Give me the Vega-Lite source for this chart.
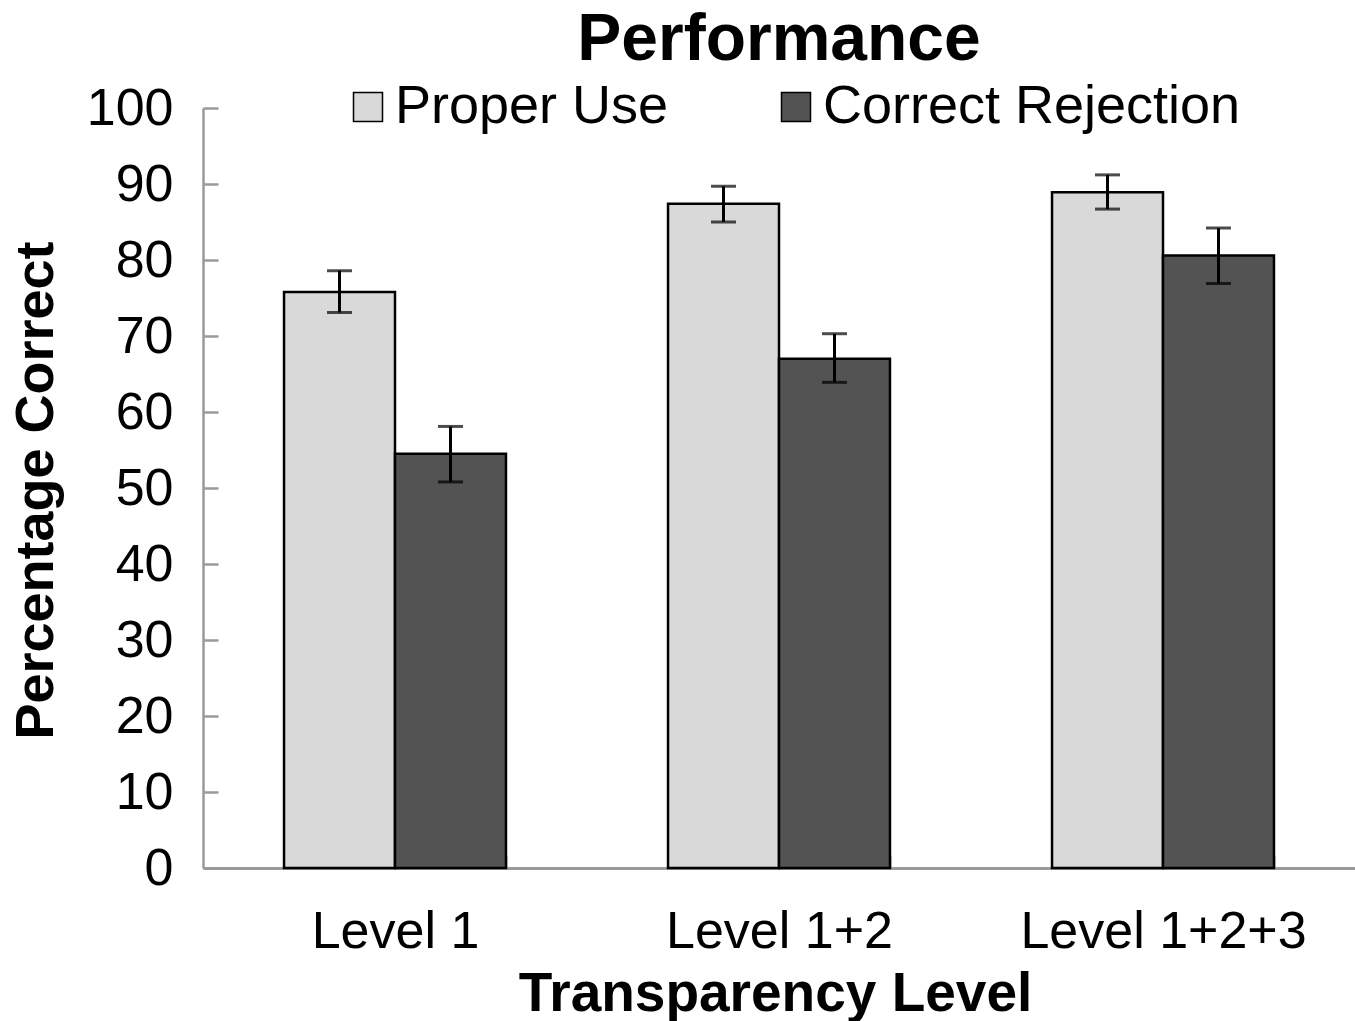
{
  "$schema": "https://vega.github.io/schema/vega-lite/v6.json",
  "width": 1152,
  "height": 760,
  "autosize": {"type": "none"},
  "padding": {"left": 203, "top": 108, "right": 0, "bottom": 153},
  "background": "white",
  "title": {"text": "Performance", "font": "Liberation Sans", "fontSize": 66, "fontWeight": "bold", "color": "black", "anchor": "middle", "frame": "group", "baseline": "alphabetic", "offset": -46},
  "data": {"values": [
    {"level": "Level 1", "measure": "Proper Use", "mean": 75.8, "lo": 73.1, "hi": 78.6},
    {"level": "Level 1", "measure": "Correct Rejection", "mean": 54.5, "lo": 50.8, "hi": 58.1},
    {"level": "Level 1+2", "measure": "Proper Use", "mean": 87.4, "lo": 85.0, "hi": 89.7},
    {"level": "Level 1+2", "measure": "Correct Rejection", "mean": 67.0, "lo": 63.9, "hi": 70.3},
    {"level": "Level 1+2+3", "measure": "Proper Use", "mean": 88.9, "lo": 86.7, "hi": 91.2},
    {"level": "Level 1+2+3", "measure": "Correct Rejection", "mean": 80.6, "lo": 76.9, "hi": 84.2}
  ]},
  "encoding": {
    "x": {
      "field": "level", "type": "nominal",
      "sort": ["Level 1", "Level 1+2", "Level 1+2+3"],
      "scale": {"paddingInner": 0.422, "paddingOuter": 0.211},
      "axis": {
        "title": "Transparency Level",
        "labelAngle": 0, "labelLimit": 1000,
        "domainColor": "#9a9a9a", "domainWidth": 3,
        "tickColor": "#9a9a9a", "tickWidth": 2, "tickSize": -12, "tickBand": "extent",
        "labelFont": "Liberation Sans", "labelFontSize": 52, "labelColor": "black",
        "labelBaseline": "alphabetic", "labelPadding": 91,
        "titleFont": "Liberation Sans", "titleFontSize": 55, "titleFontWeight": "bold", "titleColor": "black",
        "titleBaseline": "alphabetic", "titleY": 142, "titleX": 572
      }
    },
    "xOffset": {
      "field": "measure", "type": "nominal",
      "sort": ["Proper Use", "Correct Rejection"],
      "scale": {"paddingInner": 0, "paddingOuter": 0}
    }
  },
  "layer": [
    {
      "mark": {"type": "bar", "stroke": "black", "strokeWidth": 2.5},
      "encoding": {
        "y": {
          "field": "mean", "type": "quantitative", "title": "Percentage Correct",
          "scale": {"domain": [0, 100]},
          "axis": {
            "values": [0, 10, 20, 30, 40, 50, 60, 70, 80, 90, 100],
            "grid": false,
            "domainColor": "#9a9a9a", "domainWidth": 2.5,
            "tickColor": "#9a9a9a", "tickWidth": 2.5, "tickSize": -15,
            "labelFont": "Liberation Sans", "labelFontSize": 52, "labelColor": "black",
            "labelPadding": 45,
            "titleFont": "Liberation Sans", "titleFontSize": 54, "titleFontWeight": "bold", "titleColor": "black",
            "titleBaseline": "alphabetic", "titleX": -151, "titleY": 382, "titleAngle": 270
          }
        },
        "fill": {
          "field": "measure", "type": "nominal",
          "scale": {"domain": ["Proper Use", "Correct Rejection"], "range": ["#d8d9d8", "#535353"]},
          "legend": {
            "orient": "none", "legendX": 138, "legendY": -28,
            "direction": "horizontal", "columns": 2, "columnPadding": 100,
            "title": null, "padding": 0,
            "symbolType": "square", "symbolSize": 841,
            "symbolStrokeColor": "black", "symbolStrokeWidth": 1.5,
            "labelFont": "Liberation Sans", "labelFontSize": 54, "labelColor": "black",
            "labelOffset": 0, "labelLimit": 600
          }
        }
      }
    },
    {
      "mark": {"type": "rule", "color": "black", "strokeWidth": 3},
      "encoding": {
        "y": {"field": "lo", "type": "quantitative", "title": "Percentage Correct"},
        "y2": {"field": "hi"}
      }
    },
    {
      "mark": {"type": "tick", "color": "black", "thickness": 3, "size": 25},
      "encoding": {
        "y": {"field": "lo", "type": "quantitative", "title": "Percentage Correct"}
      }
    },
    {
      "mark": {"type": "tick", "color": "black", "thickness": 3, "size": 25},
      "encoding": {
        "y": {"field": "hi", "type": "quantitative", "title": "Percentage Correct"}
      }
    }
  ],
  "config": {
    "view": {"stroke": null},
    "axis": {"grid": false}
  }
}
